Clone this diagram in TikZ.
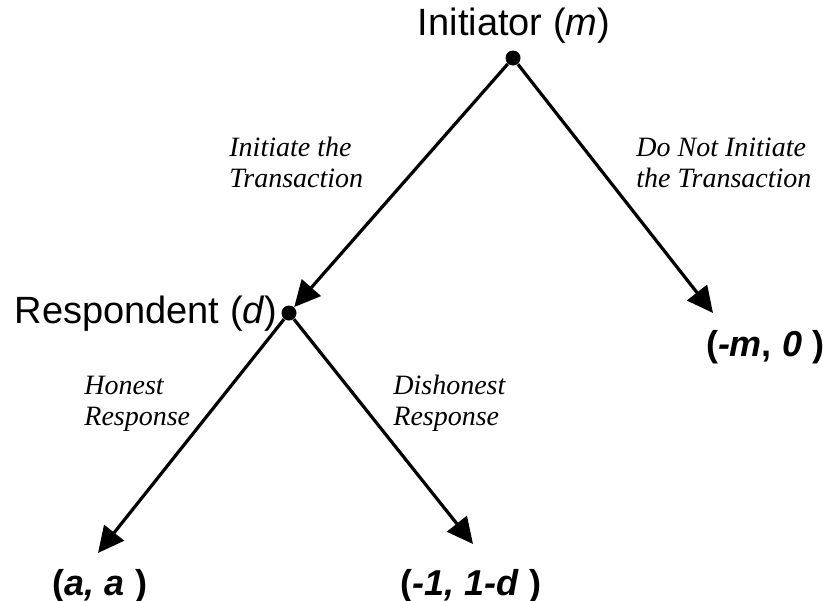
\documentclass[tikz,border=0pt]{standalone}
\usepackage{fontspec}
\setmainfont{Liberation Sans}
\newfontfamily\branchfont{Liberation Serif}
\usetikzlibrary{arrows.meta}

\begin{document}
\begin{tikzpicture}[x=0.5pt, y=-0.5pt,
    dot/.style={circle, fill=black, inner sep=0pt, minimum size=7.5pt},
    arr/.style={-{Triangle[length=13pt, width=12.5pt]}, line width=1.6pt},
    player/.style={inner sep=0pt, font=\fontsize{19}{22}\selectfont},
    payoff/.style={inner sep=0pt, font=\fontsize{18}{21}\selectfont\bfseries},
    branch/.style={inner sep=0pt, align=left, anchor=base west,
        font=\fontsize{14}{15.2}\selectfont\branchfont\itshape}]
    \useasboundingbox (0,0) rectangle (823,600);

    % decision nodes
    \node[dot] (root) at (513,58) {};
    \node[dot] (resp) at (289,313) {};
    \node[player, anchor=base] (initlbl) at (514,35) {Initiator (\textit{m})};
    \node[player, anchor=base east] (resplbl) at (278,323) {Respondent (\textit{d})};

    % arrow ends
    \coordinate (noinit) at (713,313);
    \coordinate (honest) at (98,553);
    \coordinate (dishonest) at (473,544);

    % moves
    \draw[arr] (root) -- (resp);
    \draw[arr] (root) -- (noinit);
    \draw[arr] (resp) -- (honest);
    \draw[arr] (resp) -- (dishonest);

    % move labels
    \node[branch] (lblinit) at (229,187) {Initiate the\\Transaction};
    \node[branch] (lblnoinit) at (636,187) {Do Not Initiate\\the Transaction};
    \node[branch] (lblhon) at (84,425) {Honest\\Response};
    \node[branch] (lbldis) at (393,425) {Dishonest\\Response};

    % payoffs
    \node[payoff, anchor=base] (payright) at (765,356) {(\textit{-m}, \textit{0} )};
    \node[payoff, anchor=base] (payhon) at (100,595) {(\textit{a, a} )};
    \node[payoff, anchor=base] (paydis) at (471,595) {(\textit{-1, 1-d} )};
\end{tikzpicture}
\end{document}
